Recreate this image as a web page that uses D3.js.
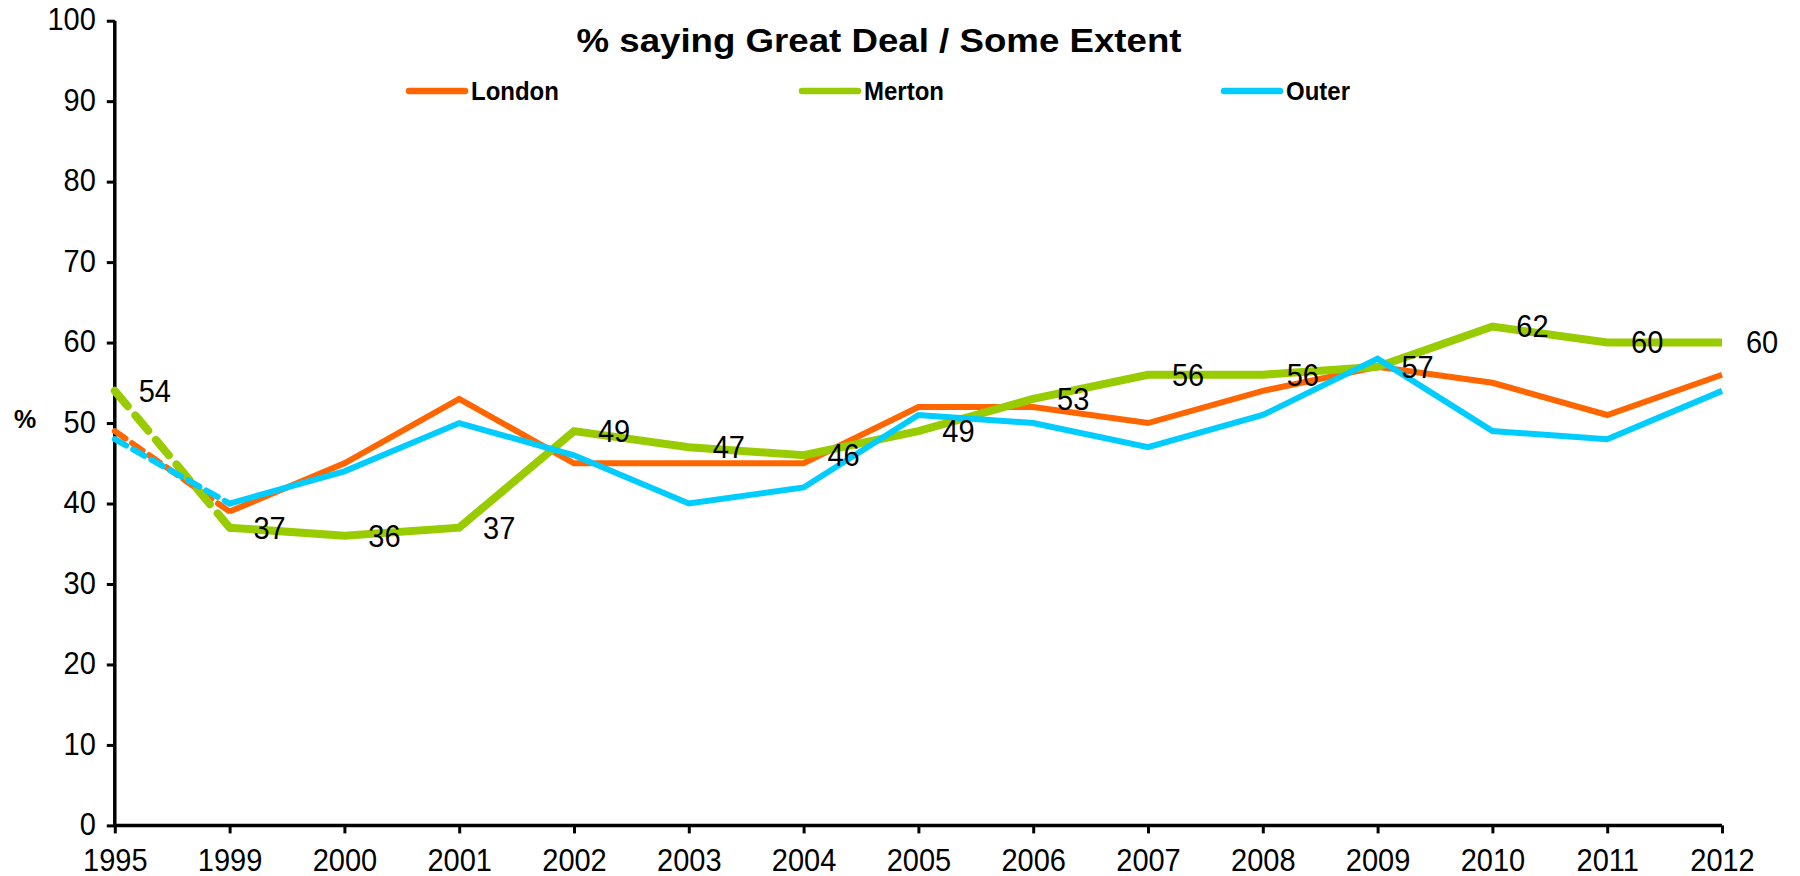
<!DOCTYPE html>
<html>
<head>
<meta charset="utf-8">
<script src="https://cdn.jsdelivr.net/npm/d3@7"></script>
<style>
  html, body { margin: 0; padding: 0; background: #fff; }
  svg { display: block; }
  text { font-family: "Liberation Sans", Arial, sans-serif; }
</style>
</head>
<body>
<svg id="chart" width="1800" height="876"></svg>
<script>
const years = ["1995","1999","2000","2001","2002","2003","2004","2005","2006","2007","2008","2009","2010","2011","2012"];
const london = [49,39,45,53,45,45,45,52,52,50,54,57,55,51,56];
const merton = [54,37,36,37,49,47,46,49,53,56,56,57,62,60,60];
const outer  = [48,40,44,50,46,40,42,51,50,47,51,58,49,48,54];
const yTicks = [0,10,20,30,40,50,60,70,80,90,100];
const seriesNames = ["London","Merton","Outer"];
const colors = ["#FF6600","#99CC00","#00CCFF"];
const title = "% saying Great Deal / Some Extent";

(function () {
const svg = d3.select("#chart");
const mLeft = 114.8, mRight = 1722, mTop = 20.7, mBottom = 825.4;
const K = 1.08; // slight vertical stretch of the original's text

const x = d3.scalePoint().domain(years).range([mLeft, mRight]).padding(0);
const y = d3.scaleLinear().domain([0,100]).range([mBottom, mTop]);

const series = [
  {name: seriesNames[0], values: london, color: colors[0], width: 6, dash: "13,8"},
  {name: seriesNames[1], values: merton, color: colors[1], width: 8, dash: "20,12"},
  {name: seriesNames[2], values: outer,  color: colors[2], width: 6, dash: "13,8"}
];

const yAxis = d3.axisLeft(y).tickValues(yTicks).tickSize(8).tickPadding(11);
const xAxis = d3.axisBottom(x).tickSize(8).tickPadding(13.6);

const gy = svg.append("g").attr("transform", `translate(${mLeft},0)`).call(yAxis);
const gx = svg.append("g").attr("transform", `translate(0,${mBottom})`).call(xAxis);
[gx, gy].forEach(g => {
  g.select(".domain").attr("stroke", "#000").attr("stroke-width", 3.5);
  g.selectAll(".tick line").attr("stroke", "#000").attr("stroke-width", 3);
  g.selectAll(".tick text").attr("fill", "#000")
    .style("font-family", '"Liberation Sans", Arial, sans-serif')
    .style("font-size", "29px")
    .attr("transform", `scale(1,${K})`);
});
gy.selectAll(".tick text").attr("dy", (0.32 / K) + "em");
gx.select(".domain").attr("d", `M${mLeft},0H${mRight}`);
gy.select(".domain").attr("d", `M0,${mTop}V${mBottom}`);

const line = d3.line().x(d => x(d.year)).y(d => y(d.v));
series.forEach(s => {
  const pts = years.map((yr, i) => ({year: yr, v: s.values[i]}));
  svg.append("path")
    .attr("d", line(pts.slice(0, 2)))
    .attr("fill", "none").attr("stroke", s.color)
    .attr("stroke-width", s.width).attr("stroke-dasharray", s.dash)
    .attr("stroke-linecap", "round");
  svg.append("path")
    .attr("d", line(pts.slice(1)))
    .attr("fill", "none").attr("stroke", s.color)
    .attr("stroke-width", s.width).attr("stroke-linejoin", "miter");
});

svg.append("g").selectAll("g")
  .data(merton)
  .join("g")
  .attr("transform", (d, i) => `translate(${x(years[i]) + 40},${y(d)}) scale(1,${K})`)
  .append("text")
  .attr("text-anchor", "middle")
  .attr("dominant-baseline", "central")
  .style("font-size", "29px")
  .attr("fill", "#000")
  .text(d => d);

svg.append("text")
  .attr("x", 879).attr("y", 52)
  .attr("text-anchor", "middle")
  .attr("textLength", 605).attr("lengthAdjust", "spacingAndGlyphs")
  .style("font-size", "34px").style("font-weight", "bold")
  .text(title);

const legendX = [409, 802, 1224];
series.forEach((s, i) => {
  svg.append("line")
    .attr("x1", legendX[i]).attr("x2", legendX[i] + 56)
    .attr("y1", 91).attr("y2", 91)
    .attr("stroke", s.color).attr("stroke-width", 6.5).attr("stroke-linecap", "round");
  svg.append("g")
    .attr("transform", `translate(${legendX[i] + 62},91) scale(1,${K})`)
    .append("text")
    .attr("dominant-baseline", "central")
    .style("font-size", "24px").style("font-weight", "bold")
    .text(s.name);
});

svg.append("text")
  .attr("x", 25).attr("y", 419)
  .attr("text-anchor", "middle")
  .attr("dominant-baseline", "central")
  .style("font-size", "25px").style("font-weight", "bold")
  .text("%");
})();
</script>
</body>
</html>
